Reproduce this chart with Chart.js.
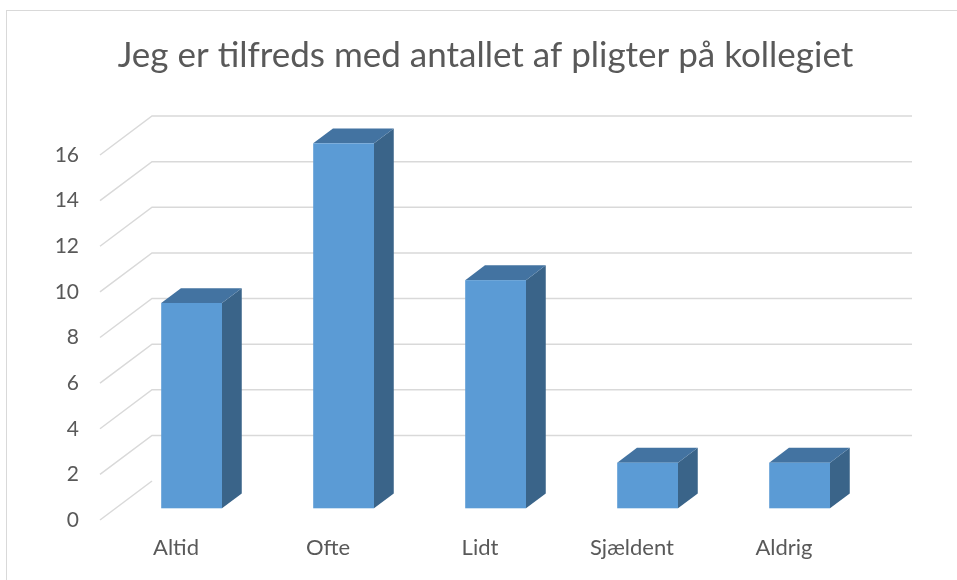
<html>
<head>
    <meta charset="UTF-8">
    <title>Jeg er tilfreds med antallet af pligter på kollegiet</title>
    <style>
        body { margin: 0; background: #fff; overflow: hidden; }
        #frame { position: absolute; left: 6px; top: 10px; width: 1000px; height: 600px; border: 1px solid #d9d9d9; }
        #wrap { position: absolute; left: 0; top: 0; width: 957px; height: 580px; }
    </style>
</head>
<body>
    <div id="frame"></div>
    <div id="wrap"><canvas id="pligterChart"></canvas></div>
    <script src="https://cdn.jsdelivr.net/npm/chart.js"></script>
    <script>
        const categories = ['Altid', 'Ofte', 'Lidt', 'Sjældent', 'Aldrig'];
        const answers = [9, 16, 10, 2, 2];
        const yTicks = [0, 2, 4, 6, 8, 10, 12, 14, 16];

        const FRONT = '#5b9bd5';
        const TOP = '#4373a1';
        const SIDE = '#3a6489';

        // depth of the back wall, and where the columns sit inside it
        const wallDepth = { x: 52, y: -39 };
        const barStart = 0.3;
        const barEnd = 0.68;

        const box3d = {
            id: 'box3d',
            beforeDatasetsDraw(chart) {
                const ctx = chart.ctx;
                const ys = chart.scales.y;
                const area = chart.chartArea;
                ctx.save();
                ctx.strokeStyle = '#d9d9d9';
                ctx.lineWidth = 1.5;
                yTicks.forEach(v => {
                    const py = ys.getPixelForValue(v);
                    ctx.beginPath();
                    ctx.moveTo(area.left, py);
                    ctx.lineTo(area.left + wallDepth.x, py + wallDepth.y);
                    if (v > 0) ctx.lineTo(area.right + wallDepth.x, py + wallDepth.y);
                    ctx.stroke();
                });
                ctx.restore();
            },
            afterDatasetsDraw(chart) {
                const ctx = chart.ctx;
                const meta = chart.getDatasetMeta(0);
                const ox = wallDepth.x * barStart, oy = wallDepth.y * barStart;
                const dx = wallDepth.x * (barEnd - barStart), dy = wallDepth.y * (barEnd - barStart);
                ctx.save();
                meta.data.forEach(bar => {
                    const l = bar.x - bar.width / 2 + ox;
                    const r = bar.x + bar.width / 2 + ox;
                    const t = bar.y + oy;
                    const b = bar.base + oy;
                    // side
                    ctx.fillStyle = SIDE;
                    ctx.beginPath();
                    ctx.moveTo(r, b); ctx.lineTo(r + dx, b + dy); ctx.lineTo(r + dx, t + dy); ctx.lineTo(r, t);
                    ctx.closePath(); ctx.fill();
                    // top
                    ctx.fillStyle = TOP;
                    ctx.beginPath();
                    ctx.moveTo(l, t); ctx.lineTo(l + dx, t + dy); ctx.lineTo(r + dx, t + dy); ctx.lineTo(r, t);
                    ctx.closePath(); ctx.fill();
                    // front
                    ctx.fillStyle = FRONT;
                    ctx.fillRect(l, t, r - l, b - t);
                });
                ctx.restore();
            }
        };

        const ctx = document.getElementById('pligterChart').getContext('2d');
        const pligterChart = new Chart(ctx, {
            type: 'bar',
            data: {
                labels: categories,
                datasets: [{
                    data: answers,
                    backgroundColor: 'rgba(0,0,0,0)',
                    barPercentage: 0.5,
                    categoryPercentage: 0.8
                }]
            },
            options: {
                responsive: true,
                maintainAspectRatio: false,
                animation: false,
                layout: { padding: { left: 14, right: 0, top: 0, bottom: 0 } },
                plugins: {
                    legend: { display: false },
                    tooltip: { enabled: false },
                    title: {
                        display: true,
                        text: 'Jeg er tilfreds med antallet af pligter på kollegiet',
                        color: '#595959',
                        font: { family: 'Lato', size: 35, weight: 'normal' },
                        padding: { top: 35, bottom: 78 }
                    }
                },
                scales: {
                    x: {
                        grid: { display: false },
                        border: { display: false },
                        ticks: { color: '#595959', font: { family: 'Lato', size: 22 }, padding: 7 },
                        afterFit(scale) { scale.height = 60; }
                    },
                    y: {
                        min: 0,
                        max: 16,
                        afterBuildTicks(scale) { scale.ticks = yTicks.map(v => ({ value: v })); },
                        grid: { display: false },
                        border: { display: false },
                        ticks: { color: '#595959', font: { family: 'Lato', size: 21 }, padding: 13 },
                        afterFit(scale) { scale.width = 86; }
                    },
                    // empty right axis, keeps the room for the back wall
                    yRight: {
                        position: 'right',
                        display: true,
                        grid: { display: false },
                        border: { display: false },
                        ticks: { display: false },
                        afterFit(scale) { scale.width = 97; }
                    }
                }
            },
            plugins: [box3d]
        });
    </script>
</body>
</html>
